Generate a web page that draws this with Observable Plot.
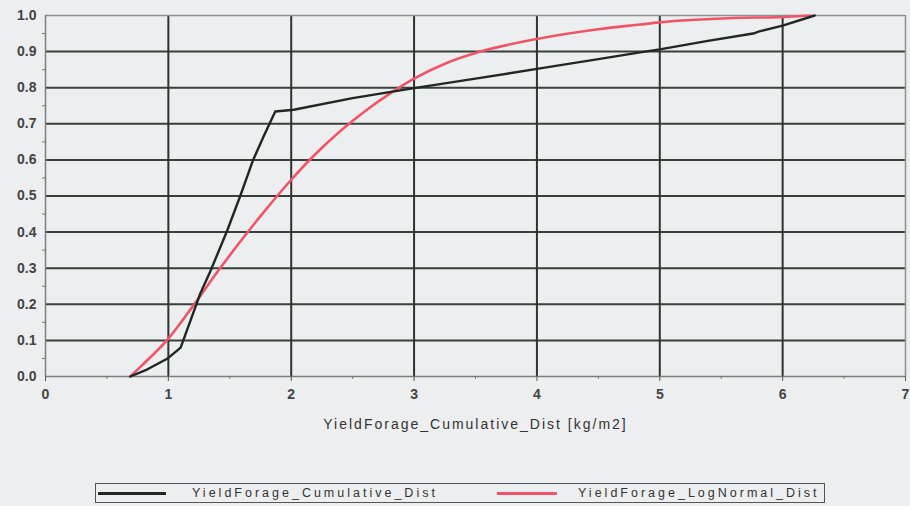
<!DOCTYPE html>
<html>
<head>
<meta charset="utf-8">
<script src="https://cdn.jsdelivr.net/npm/d3@7"></script>
<script src="https://cdn.jsdelivr.net/npm/@observablehq/plot@0.6"></script>
<style>
  html, body { margin: 0; padding: 0; background: #eceeef; width: 910px; height: 506px; overflow: hidden; }
  #chart { position: absolute; left: 0; top: 0; }
  #legend { position: absolute; left: 95px; top: 483px; width: 730px; height: 20px; border: 1px solid #555; box-sizing: border-box;
            font-family: "Liberation Sans", Arial, sans-serif; font-size: 12.5px; color: #333; letter-spacing: 3px; }
  .sw { position: absolute; top: 8px; height: 3px; }
  .lt { position: absolute; top: 2px; white-space: nowrap; }
</style>
</head>
<body>
<div id="chart"></div>
<div id="legend"></div>
<script>
// Data
const cumX = [0.69, 0.83, 0.99, 1.1, 1.18, 1.26, 1.34, 1.48, 1.585, 1.69, 1.775, 1.87, 2.02, 2.5, 3.0, 3.5, 4.0, 4.5, 4.84, 5.0, 5.38, 5.76, 5.81, 6.0, 6.26];
const cumY = [0.0, 0.02, 0.049, 0.08, 0.155, 0.23, 0.29, 0.405, 0.50, 0.60, 0.665, 0.734, 0.739, 0.771, 0.799, 0.825, 0.852, 0.879, 0.898, 0.906, 0.929, 0.95, 0.956, 0.972, 1.0];
const logX = [0.69, 0.77, 1.0, 1.2, 1.4, 1.6, 1.8, 2.0, 2.2, 2.4, 2.6, 2.8, 3.0, 3.27, 3.54, 4.0, 4.5, 4.84, 5.0, 5.6, 6.0, 6.22];
const logY = [0.0, 0.026, 0.105, 0.195, 0.29, 0.38, 0.465, 0.545, 0.617, 0.68, 0.735, 0.783, 0.825, 0.869, 0.90, 0.935, 0.962, 0.975, 0.981, 0.993, 0.996, 1.0];
const seriesNames = ["YieldForage_Cumulative_Dist", "YieldForage_LogNormal_Dist"];
const seriesColors = ["#1f2723", "#ef5568"];
const xTicks = [0, 1, 2, 3, 4, 5, 6, 7];
const xMinorTicks = [0.5, 1.5, 2.5, 3.5, 4.5, 5.5, 6.5];
const yTicks = [0, 0.1, 0.2, 0.3, 0.4, 0.5, 0.6, 0.7, 0.8, 0.9, 1.0];
const yMinorTicks = [0.05, 0.15, 0.25, 0.35, 0.45, 0.55, 0.65, 0.75, 0.85, 0.95];
const xTitle = "YieldForage_Cumulative_Dist [kg/m2]";

const cum = cumX.map((x, i) => ({x, y: cumY[i]}));
const logn = logX.map((x, i) => ({x, y: logY[i]}));

const font = "Liberation Sans, Arial, sans-serif";

const plot = Plot.plot({
  width: 910,
  height: 460,
  marginLeft: 45,
  marginRight: 5,
  marginTop: 15,
  marginBottom: 84,
  style: {background: "#eceeef", fontFamily: font, fontSize: "14px", color: "#444", overflow: "visible"},
  x: {domain: [0, 7], label: null},
  y: {domain: [0, 1], label: null},
  marks: [
    Plot.gridY(yTicks.filter(d => d > 0 && d < 1), {stroke: "#37403c", strokeOpacity: 1, strokeWidth: 2}),
    Plot.gridX(xTicks.filter(d => d > 0 && d < 7), {stroke: "#2c3330", strokeOpacity: 1, strokeWidth: 2}),
    Plot.ruleY([1], {stroke: "#8a9290", strokeWidth: 1.5}),
    Plot.ruleX([7], {stroke: "#8a9290", strokeWidth: 1.5}),
    Plot.ruleY([0], {stroke: "#7a7f7e", strokeWidth: 1.5}),
    Plot.ruleX([0], {stroke: "#7a7f7e", strokeWidth: 1.5}),
    Plot.axisX({ticks: xTicks, tickSize: 5, tickPadding: 8, tickFormat: d => String(d), stroke: "#555", fill: "#444", fontSize: 14, fontWeight: "bold", label: null}),
    Plot.axisX({ticks: xMinorTicks, tickSize: 3, tickFormat: () => "", stroke: "#777", label: null}),
    Plot.axisY({ticks: yTicks, tickSize: 0, tickPadding: 9, tickFormat: d3.format(".1f"), fill: "#444", fontSize: 14, fontWeight: "bold", label: null}),
    Plot.axisY({ticks: yMinorTicks, tickSize: 3, tickFormat: () => "", stroke: "#777", label: null}),
    Plot.text([xTitle], {text: d => d, frameAnchor: "bottom", dy: 52, fontSize: 14, fill: "#333"}),
    Plot.line(logn, {x: "x", y: "y", stroke: seriesColors[1], strokeWidth: 2.6, curve: "monotone-x"}),
    Plot.line(cum, {x: "x", y: "y", stroke: seriesColors[0], strokeWidth: 2.4})
  ]
});
plot.querySelectorAll("text").forEach(t => {
  if (t.textContent === xTitle) t.setAttribute("letter-spacing", "2px");
});
document.getElementById("chart").appendChild(plot);

// Legend below the chart
const legend = document.getElementById("legend");
const legendLayout = [{sw: 2, sww: 68, tx: 96}, {sw: 401, sww: 60, tx: 482}];
seriesNames.forEach((name, i) => {
  const s = document.createElement("div");
  s.className = "sw";
  s.style.left = legendLayout[i].sw + "px";
  s.style.width = legendLayout[i].sww + "px";
  s.style.background = seriesColors[i];
  legend.appendChild(s);
  const t = document.createElement("div");
  t.className = "lt";
  t.style.left = legendLayout[i].tx + "px";
  t.textContent = name;
  legend.appendChild(t);
});
</script>
</body>
</html>
